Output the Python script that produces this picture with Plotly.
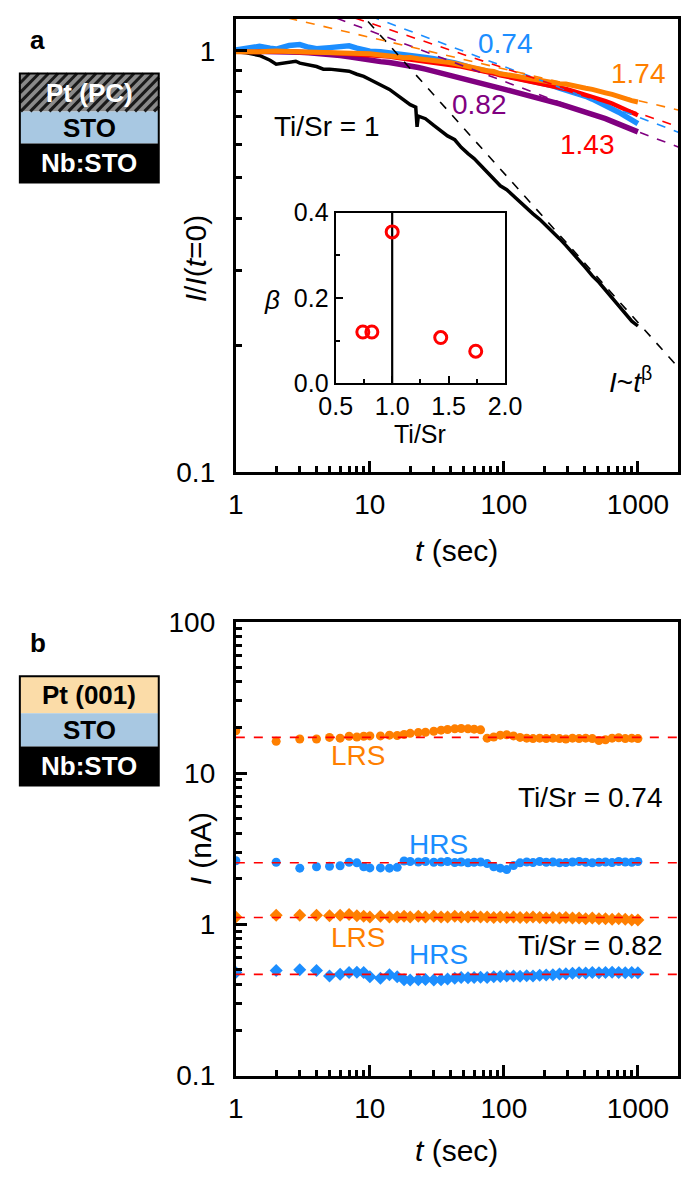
import math
import plotly.graph_objects as go

W, H = 700, 1189
FONT = "Liberation Sans, Arial, sans-serif"

# ---------------- panel a : normalized current vs time ----------------
t_a = [1, 1.2, 1.5, 1.8, 2, 2.5, 3, 3.5, 4, 5, 6, 7, 8, 9, 10, 12, 14, 16, 18, 20,
       23, 26, 30, 34, 38, 43, 48, 54, 60, 67, 75, 84, 94, 105, 118, 132, 148, 165, 185, 207,
       232, 260, 290, 325, 364, 408, 457, 512, 573, 642, 719, 805, 900, 1000]

i_174 = [0.995, 0.992, 0.995, 0.998, 1.0, 0.997, 0.995, 0.997, 0.993, 0.994,
         0.99, 0.992, 0.986, 0.988, 0.984, 0.978, 0.975, 0.968, 0.963, 0.965,
         0.958, 0.955, 0.948, 0.945, 0.94, 0.933, 0.925, 0.915, 0.912, 0.905,
         0.897, 0.893, 0.882, 0.878, 0.872, 0.866, 0.862, 0.856, 0.852, 0.846,
         0.842, 0.836, 0.834, 0.826, 0.82, 0.815, 0.81, 0.80, 0.795, 0.788,
         0.778, 0.77, 0.762, 0.756]
i_143 = [0.995, 0.993, 0.994, 0.996, 0.997, 0.995, 0.993, 0.994, 0.99, 0.99,
         0.986, 0.987, 0.982, 0.983, 0.978, 0.973, 0.97, 0.963, 0.958, 0.958,
         0.952, 0.948, 0.942, 0.937, 0.932, 0.925, 0.918, 0.91, 0.905, 0.898,
         0.89, 0.884, 0.875, 0.869, 0.862, 0.856, 0.85, 0.842, 0.837, 0.83,
         0.825, 0.818, 0.812, 0.803, 0.795, 0.788, 0.78, 0.768, 0.76, 0.75,
         0.738, 0.727, 0.715, 0.703]
i_074 = [1.005, 1.012, 1.025, 1.015, 1.01, 1.03, 1.035, 1.02, 1.012, 1.018,
         1.022, 1.028, 1.015, 1.005, 0.998, 0.995, 0.99, 0.986, 0.984, 0.978,
         0.972, 0.965, 0.958, 0.952, 0.945, 0.936, 0.928, 0.915, 0.908, 0.902,
         0.895, 0.888, 0.88, 0.875, 0.868, 0.862, 0.855, 0.848, 0.842, 0.833,
         0.826, 0.816, 0.808, 0.798, 0.79, 0.78, 0.768, 0.755, 0.745, 0.73,
         0.715, 0.70, 0.685, 0.672]
i_082 = [1.0, 1.0, 0.998, 0.997, 0.996, 0.995, 0.993, 0.99, 0.988, 0.983,
         0.975, 0.968, 0.96, 0.955, 0.95, 0.943, 0.938, 0.933, 0.928, 0.922,
         0.913, 0.905, 0.895, 0.888, 0.88, 0.872, 0.865, 0.852, 0.846, 0.838,
         0.83, 0.822, 0.815, 0.808, 0.80, 0.793, 0.787, 0.778, 0.772, 0.765,
         0.757, 0.748, 0.74, 0.732, 0.725, 0.717, 0.71, 0.698, 0.69, 0.68,
         0.67, 0.662, 0.652, 0.642]

t_black = [1, 1.2, 1.5, 1.8, 2, 2.2, 2.5, 2.8, 3, 3.5, 4, 4.5, 5, 6, 7, 8, 9, 10, 12, 14,
           16, 18, 20, 22, 22.5, 23, 26, 30, 34, 38, 43, 48, 54, 60, 67, 75, 84, 94, 105, 118,
           132, 148, 165, 185, 207, 232, 260, 290, 325, 364, 408, 457, 512, 573, 642, 719, 805, 900, 1000]
i_100 = [0.995, 0.99, 0.975, 0.95, 0.93, 0.935, 0.94, 0.945, 0.935, 0.925,
         0.918, 0.905, 0.905, 0.9, 0.895, 0.88, 0.87, 0.855, 0.83, 0.81,
         0.785, 0.765, 0.745, 0.735, 0.66, 0.70, 0.69, 0.665, 0.645, 0.628,
         0.615, 0.59, 0.57, 0.555, 0.535, 0.515, 0.495, 0.478, 0.468, 0.452,
         0.438, 0.425, 0.41, 0.398, 0.385, 0.372, 0.358, 0.345, 0.332, 0.318,
         0.305, 0.292, 0.282, 0.27, 0.258, 0.247, 0.237, 0.228, 0.222]

# power-law fits I ~ A t^-beta (inset values)
ratio = [0.74, 0.82, 1.0, 1.43, 1.74]
beta = [0.12, 0.12, 0.355, 0.107, 0.075]
prefactor = [1.596, 1.472, 2.63, 1.49, 1.28]
fit_colors = ["#1C8EFF", "#800080", "black", "#FF0000", "#FF7F00"]

# ---------------- panel b : retention ----------------
t_b = [1, 2, 3, 4, 5, 6, 7, 8, 9, 10, 12, 14, 16, 18, 20, 23, 26, 30, 34, 38,
       43, 48, 54, 60, 67, 75, 84, 94, 105, 118, 132, 148, 165, 185, 207, 232, 260, 290, 325, 364,
       408, 457, 512, 573, 642, 719, 805, 900, 1000]
lrs_074 = [19.0, 16.2, 16.8, 16.8, 17.2, 17.0, 17.5, 17.3, 17.5, 17.6,
           17.6, 17.8, 17.7, 18.0, 18.3, 18.5, 18.6, 18.9, 19.2, 19.4,
           19.6, 19.7, 19.6, 19.5, 19.3, 17.0, 17.3, 17.8, 17.9, 17.6,
           17.2, 17.0, 16.9, 17.0, 16.9, 17.0, 16.9, 16.8, 17.0, 16.9,
           17.0, 16.9, 16.4, 16.6, 17.0, 17.1, 16.9, 17.0, 16.9]
hrs_074 = [2.63, 2.57, 2.35, 2.40, 2.42, 2.44, 2.57, 2.55, 2.40, 2.36,
           2.36, 2.35, 2.38, 2.62, 2.60, 2.58, 2.60, 2.57, 2.58, 2.60,
           2.56, 2.58, 2.55, 2.57, 2.58, 2.52, 2.40, 2.35, 2.30, 2.45,
           2.55, 2.58, 2.56, 2.60, 2.57, 2.58, 2.55, 2.56, 2.58, 2.60,
           2.57, 2.55, 2.57, 2.58, 2.56, 2.60, 2.58, 2.57, 2.60]
lrs_082 = [1.12, 1.15, 1.15, 1.15, 1.14, 1.15, 1.16, 1.14, 1.13, 1.12,
           1.13, 1.12, 1.12, 1.13, 1.12, 1.13, 1.12, 1.13, 1.12, 1.12,
           1.13, 1.12, 1.12, 1.13, 1.12, 1.12, 1.11, 1.12, 1.11, 1.12,
           1.11, 1.11, 1.12, 1.11, 1.10, 1.11, 1.10, 1.11, 1.10, 1.10,
           1.09, 1.10, 1.09, 1.09, 1.08, 1.09, 1.08, 1.07, 1.07]
hrs_082 = [0.48, 0.495, 0.50, 0.495, 0.455, 0.467, 0.48, 0.482, 0.48, 0.45,
           0.44, 0.465, 0.45, 0.43, 0.428, 0.43, 0.432, 0.428, 0.43, 0.435,
           0.44, 0.445, 0.443, 0.445, 0.447, 0.445, 0.45, 0.452, 0.455, 0.455,
           0.453, 0.458, 0.455, 0.46, 0.462, 0.465, 0.47, 0.472, 0.475, 0.478,
           0.477, 0.48, 0.478, 0.48, 0.482, 0.48, 0.478, 0.48, 0.478]
mean_levels = [17.2, 2.55, 1.11, 0.467]

ORANGE = "#FF7F00"
BLUE = "#1C8EFF"
RED = "#FF0000"
PURPLE = "#800080"

T_END = 2000
X_MAX_LOG = math.log10(T_END)

fig = go.Figure()

# ---------- panel a traces ----------
for tt, yy, c, w in [(t_black, i_100, "black", 3.5),
                     (t_a, i_082, PURPLE, 5.5),
                     (t_a, i_074, BLUE, 5.5),
                     (t_a, i_143, RED, 4.5),
                     (t_a, i_174, ORANGE, 5)]:
    fig.add_trace(go.Scatter(x=tt, y=yy, mode="lines", line=dict(color=c, width=w),
                             xaxis="x", yaxis="y", showlegend=False))

for a, b, c in zip(prefactor, beta, fit_colors):
    ts = [1, T_END]
    fig.add_trace(go.Scatter(x=ts, y=[a * t ** (-b) for t in ts], mode="lines",
                             line=dict(color=c, width=1.6, dash="dash"),
                             xaxis="x", yaxis="y", showlegend=False))

# inset
fig.add_trace(go.Scatter(x=[ratio[2], ratio[2]], y=[0, 0.4], mode="lines",
                         line=dict(color="black", width=2.2), xaxis="x2", yaxis="y2",
                         showlegend=False))
fig.add_trace(go.Scatter(x=ratio, y=beta, mode="markers",
                         marker=dict(symbol="circle-open", size=12, color=RED,
                                     line=dict(width=3, color=RED)),
                         xaxis="x2", yaxis="y2", showlegend=False))

# ---------- panel b traces ----------
for yy, c, sym, sz in [(lrs_074, ORANGE, "circle", 9), (hrs_074, BLUE, "circle", 9),
                       (lrs_082, ORANGE, "diamond", 10), (hrs_082, BLUE, "diamond", 10)]:
    fig.add_trace(go.Scatter(x=t_b, y=yy, mode="markers",
                             marker=dict(symbol=sym, size=sz, color=c, line=dict(width=0)),
                             xaxis="x3", yaxis="y3", showlegend=False))
for lvl in mean_levels:
    fig.add_trace(go.Scatter(x=[1, T_END], y=[lvl, lvl], mode="lines",
                             line=dict(color=RED, width=1.6, dash="dash"),
                             xaxis="x3", yaxis="y3", showlegend=False))


def px_x(x):
    return x / W


def px_y(y):
    return 1 - y / H


tickfont = dict(family=FONT, size=28, color="black")
minor_log = dict(ticks="inside", ticklen=6, tickwidth=2.5, tickcolor="black", dtick="D1")
base = dict(type="log", showline=True, linecolor="black", linewidth=3, mirror=True,
            ticks="inside", ticklen=11, tickwidth=2.5, tickcolor="black",
            showgrid=False, zeroline=False, tickfont=tickfont,
            tickmode="linear", tick0=0, dtick=1, minor=minor_log)

xdom = [px_x(230), px_x(695)]

inset_font = dict(family=FONT, size=25, color="black")
inset_base = dict(showline=True, linecolor="black", linewidth=2.2, mirror=True,
                  ticks="inside", ticklen=7, tickwidth=2, tickcolor="black",
                  showgrid=False, zeroline=False, tickfont=inset_font, tickformat=".1f")

fig.update_layout(
    width=W, height=H, margin=dict(l=0, r=0, t=0, b=0),
    paper_bgcolor="white", plot_bgcolor="white", showlegend=False,
    font=dict(family=FONT, color="black"),
    xaxis=dict(base, domain=xdom, anchor="y", range=[0, X_MAX_LOG], ticklabelstandoff=6),
    yaxis=dict(base, domain=[px_y(469), px_y(4)], anchor="x", range=[-1, 0.076],
               ticklabelstandoff=12),
    xaxis2=dict(inset_base, domain=[px_x(335), px_x(513)], anchor="y2", range=[0.5, 2.0],
                tickmode="linear", tick0=0.5, dtick=0.5,
                minor=dict(ticks="inside", ticklen=4, tickwidth=2, tickcolor="black",
                           dtick=0.25)),
    yaxis2=dict(inset_base, domain=[px_y(378), px_y(203)], anchor="x2", range=[0, 0.4],
                tickmode="linear", tick0=0, dtick=0.2,
                minor=dict(ticks="inside", ticklen=4, tickwidth=2, tickcolor="black",
                           dtick=0.1)),
    xaxis3=dict(base, domain=xdom, anchor="y3", range=[0, X_MAX_LOG], ticklabelstandoff=6),
    yaxis3=dict(base, domain=[px_y(1089), px_y(623)], anchor="x3", range=[-1, 2],
                ticklabelstandoff=12),
)

# schematic rectangles (paper coordinates)
shapes = []
def rect(x0, y0, x1, y1, fill, lw=0):
    shapes.append(dict(type="rect", xref="paper", yref="paper", x0=px_x(x0), x1=px_x(x1),
                       y0=px_y(y1), y1=px_y(y0), fillcolor=fill,
                       line=dict(color="black", width=lw), layer="above"))

rect(3, 60, 149, 99, "#8a8a8a")
rect(3, 99, 149, 132, "#A8C8E2")
rect(3, 132, 149, 172, "black")
rect(3, 679, 149, 717, "#FBDCA8")
rect(3, 717, 149, 751, "#A8C8E2")
rect(3, 751, 149, 791, "black")
# hatch stripes on the Pt (PC) layer
x_start = -36
while x_start < 149:
    xa, ya = x_start, 99
    xb, yb = x_start + 39, 60
    if xa < 3:
        ya = 99 - (3 - xa)
        xa = 3
    if xb > 149:
        yb = 60 + (xb - 149)
        xb = 149
    if xb > xa:
        shapes.append(dict(type="line", xref="paper", yref="paper", x0=px_x(xa), y0=px_y(ya),
                           x1=px_x(xb), y1=px_y(yb), line=dict(color="#1a1a1a", width=3),
                           layer="above"))
    x_start += 10
rect(3, 60, 149, 172, "rgba(0,0,0,0)", 2)
rect(3, 679, 149, 791, "rgba(0,0,0,0)", 2)
fig.update_layout(shapes=shapes)

anns = []
def ann(text, x, y, size=28, color="black", xanchor="center", angle=0, bold=False):
    anns.append(dict(text=("<b>%s</b>" % text) if bold else text, x=px_x(x), y=px_y(y),
                     xref="paper", yref="paper", showarrow=False, xanchor=xanchor,
                     yanchor="middle", textangle=angle,
                     font=dict(family=FONT, size=size, color=color)))

ann("a", 22, 26, 26, bold=True)
ann("b", 22, 645, 26, bold=True)
ann("Pt (PC)", 76, 80, 26, "white", bold=True)
ann("STO", 76, 116, 26, bold=True)
ann("Nb:STO", 76, 152, 26, "white", bold=True)
ann("Pt (001)", 76, 698, 26, bold=True)
ann("STO", 76, 734, 26, bold=True)
ann("Nb:STO", 76, 771, 26, "white", bold=True)

ann("0.74", 513, 29, 28, BLUE)
ann("1.74", 653, 60, 28, ORANGE)
ann("0.82", 486, 92, 28, PURPLE)
ann("1.43", 600, 133, 28, RED)
ann("Ti/Sr = 1", 326, 114, 28)
ann("<i>I</i>~<i>t</i><sup>β</sup>", 645, 375, 28)
ann("<i>β</i>", 268, 293, 26)
ann("Ti/Sr", 424, 430, 25)
ann("<i>I</i>/<i>I</i>(<i>t</i>=0)", 188, 250, 30, angle=-90)
ann("<i>t</i> (sec)", 462, 550, 30)

ann("<i>I</i> (nA)", 193, 856, 30, angle=-90)
ann("<i>t</i> (sec)", 462, 1166, 30)
ann("LRS", 358, 760, 28, ORANGE)
ann("Ti/Sr = 0.74", 680, 803, 28, xanchor="right")
ann("HRS", 443, 852, 28, BLUE)
ann("LRS", 358, 947, 28, ORANGE)
ann("Ti/Sr = 0.82", 680, 955, 28, xanchor="right")
ann("HRS", 443, 965, 28, BLUE)
fig.update_layout(annotations=anns)

fig.write_html("out.html", config={"displayModeBar": False},
               post_script="document.body.style.margin='0px';")
